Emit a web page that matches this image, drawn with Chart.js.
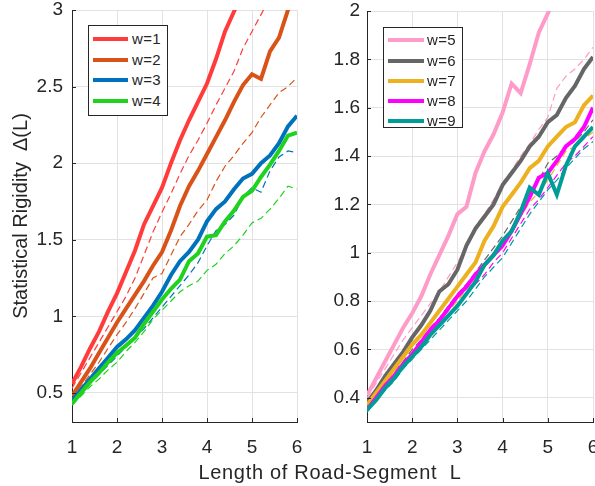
<!DOCTYPE html>
<html><head><meta charset="utf-8">
<script src="https://cdn.jsdelivr.net/npm/chart.js@4.4.0/dist/chart.umd.min.js"></script>
<style>
html,body{margin:0;padding:0;background:#fff;}
#wrap{position:relative;width:595px;height:486px;overflow:hidden;font-family:"Liberation Sans",Arial,Helvetica,sans-serif;color:#262626;background:#fff;}
canvas{position:absolute;top:0;}
.legend{position:absolute;border:1px solid #262626;background:#fff;box-sizing:border-box;}
.sw{position:absolute;height:4px;}
.lt{position:absolute;font-size:15px;line-height:18px;white-space:nowrap;letter-spacing:0.3px;}
#xt{position:absolute;top:461px;left:330px;transform:translateX(-50%);font-size:20px;line-height:22px;white-space:pre;letter-spacing:0.7px;}
</style></head>
<body><div id="wrap">
<canvas id="c1" width="312" height="486" style="left:0px"></canvas>
<canvas id="c2" width="295" height="486" style="left:300px"></canvas>
<div id="xt">Length of Road-Segment  L</div>
<div id="lg1" class="legend" style="left:88px;top:25px;width:80px;height:91px"></div>
<div id="lg2" class="legend" style="left:383px;top:27px;width:80px;height:101px"></div>
</div>
<script>
// ---- data ----
const L = [1,1.2,1.4,1.6,1.8,2,2.2,2.4,2.6,2.8,3,3.2,3.4,3.6,3.8,4,4.2,4.4,4.6,4.8,5,5.2,5.4,5.6,5.8,6];
const xTicks = [1,2,3,4,5,6];
const xTickLabels = ["1","2","3","4","5","6"];
const yTicksLeft = [0.5,1,1.5,2,2.5,3];
const yTickLabelsLeft = ["0.5","1","1.5","2","2.5","3"];
const yTicksRight = [0.4,0.6,0.8,1,1.2,1.4,1.6,1.8,2];
const yTickLabelsRight = ["0.4","0.6","0.8","1","1.2","1.4","1.6","1.8","2"];
const labelsLeft = ["w=1","w=2","w=3","w=4"];
const labelsRight = ["w=5","w=6","w=7","w=8","w=9"];

const w1  = [0.56,0.67,0.79,0.90,1.03,1.15,1.29,1.43,1.60,1.72,1.84,2.00,2.15,2.28,2.40,2.52,2.68,2.86,2.99,3.12,3.25,3.38,3.50,3.62,3.75,3.88];
const w1d = [0.53,0.63,0.73,0.83,0.93,1.03,1.13,1.25,1.40,1.55,1.68,1.80,1.93,2.05,2.15,2.26,2.38,2.49,2.60,2.75,2.86,2.97,3.08,3.20,3.30,3.42];
const w2  = [0.48,0.57,0.66,0.76,0.86,0.96,1.05,1.14,1.23,1.33,1.42,1.56,1.72,1.85,1.95,2.06,2.17,2.28,2.40,2.51,2.58,2.55,2.73,2.82,3.00,3.10];
const w2d = [0.46,0.54,0.62,0.70,0.79,0.88,0.96,1.05,1.15,1.25,1.28,1.40,1.52,1.60,1.69,1.76,1.88,1.98,2.05,2.13,2.20,2.30,2.38,2.46,2.50,2.56];
const w3  = [0.45,0.52,0.59,0.66,0.73,0.80,0.85,0.91,0.99,1.07,1.16,1.27,1.36,1.42,1.50,1.62,1.70,1.75,1.83,1.90,1.93,2.00,2.05,2.13,2.24,2.31];
const w3d = [0.44,0.50,0.56,0.62,0.68,0.74,0.80,0.86,0.92,0.99,1.06,1.13,1.20,1.27,1.35,1.46,1.56,1.60,1.66,1.78,1.84,1.81,1.95,2.04,2.08,2.07];
const w4  = [0.43,0.50,0.57,0.63,0.70,0.76,0.81,0.86,0.95,1.03,1.11,1.18,1.24,1.36,1.41,1.52,1.53,1.62,1.69,1.78,1.82,1.91,1.99,2.08,2.18,2.20];
const w4d = [0.42,0.48,0.54,0.59,0.65,0.70,0.77,0.83,0.90,0.98,1.04,1.10,1.16,1.20,1.23,1.30,1.34,1.41,1.46,1.53,1.61,1.64,1.70,1.77,1.85,1.83];

const w5  = [0.41,0.48,0.55,0.62,0.69,0.75,0.82,0.91,0.99,1.07,1.16,1.19,1.33,1.42,1.49,1.58,1.70,1.66,1.78,1.91,1.99,2.06,2.15,2.22,2.30,2.38];
const w5d = [0.40,0.46,0.52,0.58,0.64,0.69,0.74,0.79,0.84,0.90,0.96,1.02,1.11,1.16,1.22,1.29,1.34,1.40,1.45,1.51,1.56,1.68,1.73,1.76,1.80,1.85];
const w6  = [0.38,0.43,0.49,0.54,0.59,0.65,0.70,0.76,0.84,0.87,0.93,1.03,1.10,1.15,1.20,1.28,1.33,1.38,1.44,1.48,1.54,1.57,1.64,1.69,1.76,1.81];
const w6d = [0.37,0.42,0.46,0.51,0.55,0.60,0.64,0.69,0.73,0.78,0.83,0.87,0.92,0.97,1.02,1.07,1.13,1.19,1.25,1.30,1.37,1.40,1.44,1.46,1.50,1.55];
const w7  = [0.37,0.42,0.47,0.52,0.57,0.62,0.66,0.71,0.76,0.81,0.86,0.91,0.96,1.05,1.11,1.19,1.24,1.29,1.35,1.38,1.44,1.48,1.52,1.54,1.61,1.65];
const w7d = [0.36,0.41,0.45,0.50,0.54,0.59,0.63,0.68,0.72,0.76,0.80,0.85,0.89,0.94,0.99,1.04,1.10,1.15,1.21,1.25,1.30,1.36,1.42,1.44,1.47,1.50];
const w8  = [0.35,0.40,0.45,0.49,0.54,0.58,0.63,0.68,0.72,0.77,0.82,0.86,0.91,0.95,0.99,1.03,1.09,1.16,1.23,1.31,1.33,1.38,1.44,1.47,1.52,1.60];
const w8d = [0.35,0.39,0.44,0.48,0.53,0.57,0.62,0.66,0.70,0.74,0.78,0.83,0.87,0.91,0.96,1.00,1.06,1.12,1.18,1.22,1.27,1.32,1.37,1.40,1.44,1.48];
const w9  = [0.35,0.39,0.44,0.48,0.53,0.57,0.61,0.66,0.70,0.74,0.78,0.83,0.88,0.95,0.99,1.05,1.09,1.17,1.27,1.24,1.33,1.24,1.36,1.44,1.48,1.52];
const w9d = [0.34,0.39,0.43,0.47,0.52,0.56,0.60,0.64,0.68,0.72,0.76,0.80,0.85,0.90,0.94,0.98,1.04,1.10,1.16,1.21,1.26,1.30,1.35,1.39,1.43,1.46];

const colorsLeft = ["#FF3B3B","#D95319","#0072BD","#1ED21E"];
const colorsRight = ["#FF9BC8","#666666","#EDB120","#FF00FF","#009C98"];

const FONT = '"Liberation Sans", Arial, Helvetica, sans-serif';
const TXT = '#262626';

function buildDatasets(solids, dashes, colors, labels) {
  const ds = [];
  const n = solids.length * 2;
  let k = 0;
  solids.forEach((s, i) => {
    ds.push({label: labels[i], data: L.map((x, j) => ({x, y: s[j]})), borderColor: colors[i],
      borderWidth: 4, pointRadius: 0, tension: 0, fill: false, clip: 0, order: n - (k++)});
    ds.push({label: labels[i] + ' (dashed)', data: L.map((x, j) => ({x, y: dashes[i][j]})), borderColor: colors[i],
      borderWidth: 1.2, borderDash: [7, 4], pointRadius: 0, tension: 0, fill: false, clip: 0, order: n - (k++)});
  });
  return ds;
}

const inTicks = {
  id: 'inTicks',
  afterDraw(chart) {
    const {ctx, chartArea, scales} = chart;
    ctx.save();
    ctx.strokeStyle = TXT; ctx.lineWidth = 1;
    ctx.beginPath();
    scales.y.ticks.forEach(t => { const py = Math.round(scales.y.getPixelForValue(t.value)) + 0.5;
      ctx.moveTo(chartArea.left, py); ctx.lineTo(chartArea.left + 4, py); });
    scales.x.ticks.forEach(t => { const px = Math.round(scales.x.getPixelForValue(t.value)) + 0.5;
      ctx.moveTo(px, chartArea.bottom); ctx.lineTo(px, chartArea.bottom - 4); });
    ctx.stroke();
    ctx.restore();
  }
};

function makeChart(id, datasets, yMin, yMax, yTicks, yLabels, yAxisWidth, padTop, padRight, tickPad, title) {
  return new Chart(document.getElementById(id), {
    type: 'line',
    data: {datasets},
    options: {
      responsive: false, animation: false, devicePixelRatio: 1, events: [],
      layout: {padding: {top: padTop, right: padRight, left: 0, bottom: 0}},
      plugins: {legend: {display: false}, tooltip: {enabled: false}},
      scales: {
        x: {type: 'linear', min: 1, max: 6,
          afterBuildTicks: s => { s.ticks = xTicks.map(v => ({value: v})); },
          afterFit: s => { s.height = 64; s.paddingLeft = 0; s.paddingRight = 0; },
          ticks: {callback: (v, i) => xTickLabels[i], font: {size: 19, family: FONT}, color: TXT, padding: 14, maxRotation: 0, autoSkip: false},
          grid: {color: '#E2E2E2', drawTicks: false, lineWidth: 1},
          border: {color: TXT, width: 1}},
        y: {type: 'linear', min: yMin, max: yMax,
          afterBuildTicks: s => { s.ticks = yTicks.map(v => ({value: v})); },
          afterFit: s => { s.width = yAxisWidth; s.paddingTop = 0; s.paddingBottom = 0; },
          ticks: {callback: (v, i) => yLabels[i], font: {size: 19, family: FONT}, color: TXT, padding: tickPad, autoSkip: false},
          grid: {color: '#E2E2E2', drawTicks: false, lineWidth: 1},
          border: {color: TXT, width: 1},
          title: title ? {display: true, text: title, font: {size: 20, family: FONT, lineHeight: 1.2}, color: TXT, padding: {top: 9, bottom: 0}} : {display: false}}
      }
    },
    plugins: [inTicks]
  });
}

makeChart('c1', buildDatasets([w1,w2,w3,w4],[w1d,w2d,w3d,w4d], colorsLeft, labelsLeft),
  0.31, 3, yTicksLeft, yTickLabelsLeft, 72, 10, 15, 9, 'Statistical Rigidity  \u0394(L)');
makeChart('c2', buildDatasets([w5,w6,w7,w8,w9],[w5d,w6d,w7d,w8d,w9d], colorsRight, labelsRight),
  0.3, 2, yTicksRight, yTickLabelsRight, 67, 11, 2, 7, null);

function buildLegend(id, labels, colors, rowTops, swLeft, swWidth, textLeft) {
  const el = document.getElementById(id);
  labels.forEach((lab, i) => {
    const sw = document.createElement('div');
    sw.className = 'sw';
    sw.style.left = swLeft + 'px'; sw.style.width = swWidth + 'px';
    sw.style.top = (rowTops[i] - 2) + 'px'; sw.style.background = colors[i];
    el.appendChild(sw);
    const t = document.createElement('div');
    t.className = 'lt'; t.textContent = lab;
    t.style.left = textLeft + 'px'; t.style.top = (rowTops[i] - 9) + 'px';
    el.appendChild(t);
  });
}
buildLegend('lg1', labelsLeft, colorsLeft, [13, 33.5, 54, 74.5], 4, 35, 43);
buildLegend('lg2', labelsRight, colorsRight, [12, 33, 53, 73, 93], 4, 36, 43);
</script>
</body></html>
